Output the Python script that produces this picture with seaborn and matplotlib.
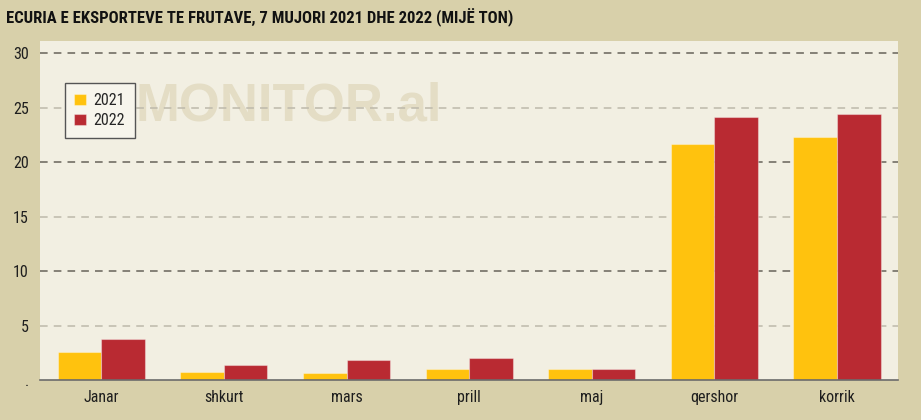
import matplotlib
matplotlib.use("Agg")
import matplotlib.pyplot as plt
from matplotlib import font_manager
import pandas as pd
import seaborn as sns

months = ["Janar", "shkurt", "mars", "prill", "maj", "qershor", "korrik"]
values_2021 = [2.6, 0.75, 0.6, 1.05, 1.05, 21.7, 22.3]
values_2022 = [3.8, 1.35, 1.85, 2.0, 1.05, 24.15, 24.45]
years = ["2021", "2022"]
colors = ["#ffc20e", "#b92a32"]

title = "ECURIA E EKSPORTEVE TE FRUTAVE, 7 MUJORI 2021 DHE 2022 (MIJË TON)"
ytick_vals = [0, 5, 10, 15, 20, 25, 30]
ytick_labels = [".", "5", "10", "15", "20", "25", "30"]


def first_font(candidates):
    for name in candidates:
        try:
            font_manager.findfont(font_manager.FontProperties(family=name),
                                  fallback_to_default=False)
            return name
        except Exception:
            continue
    return "DejaVu Sans"


narrow = first_font(["Liberation Sans Narrow", "DejaVu Sans Condensed",
                     "Roboto Condensed", "Open Sans Condensed", "Roboto"])

df = pd.DataFrame({
    "muaji": months * 2,
    "viti": [years[0]] * len(months) + [years[1]] * len(months),
    "vlera": values_2021 + values_2022,
})

sns.set_style("white")
plt.rcParams["font.family"] = [narrow, "DejaVu Sans"]

fig = plt.figure(figsize=(9.21, 4.2), dpi=100, facecolor="#d8d0aa")
ax = fig.add_axes([0.0434, 0.0952, 0.932, 0.807])
ax.set_facecolor("#f2efe2")

sns.barplot(data=df, x="muaji", y="vlera", hue="viti", palette=colors,
            width=0.71, gap=0, saturation=1, ax=ax,
            edgecolor=(1, 1, 1, 0.35), linewidth=0.8, zorder=3)

ax.set_xlim(-0.5, 6.5)
ax.set_ylim(0, 31.1)
ax.set_yticks(ytick_vals)
ax.set_yticklabels(ytick_labels)

for v in ytick_vals[1:]:
    c = "#67635a" if v % 10 == 0 else "#bdb9ab"
    ax.axhline(v, color=c, linestyle=(0, (5, 4)), linewidth=1.1, zorder=1)

for s in ["top", "right", "left"]:
    ax.spines[s].set_visible(False)
ax.spines["bottom"].set_color("#6b6b6b")
ax.spines["bottom"].set_linewidth(1.2)
ax.spines["bottom"].set_zorder(4)

ax.tick_params(axis="both", length=0, labelsize=11.5, colors="#1e1e1e")
ax.tick_params(axis="x", pad=7)
ax.tick_params(axis="y", pad=8)
ax.set_xlabel("")
ax.set_ylabel("")

ax.text(0.29, 0.806, "MONITOR.al", transform=ax.transAxes, fontsize=38,
        fontweight="heavy", color="#e4ddc5", ha="center", va="center",
        family=["Liberation Sans", "DejaVu Sans"], zorder=0)

leg = ax.legend(loc="upper left", bbox_to_anchor=(0.029, 0.876), frameon=True,
                fancybox=False, framealpha=1, facecolor="#f7f5ec",
                edgecolor="#555555", fontsize=11.5, handlelength=0.7,
                handleheight=0.7, handletextpad=0.5, borderpad=0.6,
                labelspacing=0.35, borderaxespad=0, title=None)
leg.get_frame().set_linewidth(1.0)

fig.text(0.006, 0.957, title, fontsize=12, fontweight="bold",
         color="#111111", ha="left", va="center")

fig.savefig("out.png", dpi=100, facecolor=fig.get_facecolor())
